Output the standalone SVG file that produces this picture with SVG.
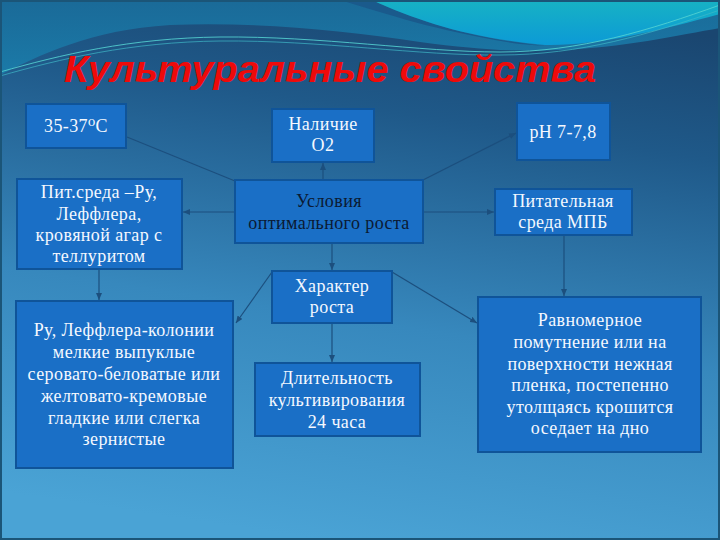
<svg xmlns="http://www.w3.org/2000/svg" width="720" height="540" viewBox="0 0 720 540">
  <defs>
    <linearGradient id="bg" x1="0.65" y1="0" x2="0.45" y2="1">
      <stop offset="0" stop-color="#1a4670"/>
      <stop offset="0.22" stop-color="#1f5989"/>
      <stop offset="0.6" stop-color="#3788bd"/>
      <stop offset="1" stop-color="#4aa3d5"/>
    </linearGradient>
    <linearGradient id="cyan" x1="0" y1="0" x2="0" y2="1">
      <stop offset="0" stop-color="#17b2c4"/>
      <stop offset="1" stop-color="#0c9ad6"/>
    </linearGradient>
    <linearGradient id="teal" x1="0" y1="0" x2="0" y2="1">
      <stop offset="0" stop-color="#1a6a98"/>
      <stop offset="1" stop-color="#1b7aa8"/>
    </linearGradient>
    <marker id="arr" markerUnits="userSpaceOnUse" markerWidth="7" markerHeight="6" refX="7" refY="3" orient="auto">
      <path d="M0,0 L7,3 L0,6 Z" fill="#1c4f7e"/>
    </marker>
    <style>
      .box { fill: #1a6fc6; stroke: #0f5499; stroke-width: 2; }
      .t { font-family: "Liberation Serif", "DejaVu Serif", serif; font-size: 18px; fill: #f4f8ff; text-anchor: middle; letter-spacing: 0.4px; }
      .dark { fill: #0b1a33; }
      .c { stroke: #1c4f7e; stroke-width: 1.2; fill: none; }
      .ca { stroke: #1c4f7e; stroke-width: 1.2; fill: none; marker-end: url(#arr); }
      .title { font-family: "Liberation Sans", Arial, sans-serif; font-weight: bold; font-style: italic; font-size: 37px; fill: #ee0a0a; }
    </style>
  </defs>

  <g id="background">
    <rect x="0" y="0" width="720" height="540" fill="url(#bg)"/>
    <path d="M0,0 H720 V28 C 680,35 620,48 560,50 C 520,52 480,50 420,42 C 340,30 260,22 170,25 C 90,30 40,55 0,75 Z" fill="url(#teal)"/>
    <path d="M340,0 C 390,15 440,32 520,44 L545,46 C 470,38 420,22 372,0 Z" fill="#1a5a8c"/>
    <path d="M372,0 C 420,22 470,38 545,45 C 600,46 660,30 720,14 V0 Z" fill="url(#cyan)"/>
    <path d="M0,72 C 60,55 130,38 220,37 C 320,36 420,52 500,52 C 580,52 650,30 720,5" fill="none" stroke="#55d4d2" stroke-width="1" opacity="0.85"/>
    <path d="M0,76 C 60,59 130,42 220,41 C 320,40 420,56 500,55 C 580,55 650,34 720,10" fill="none" stroke="#3fb8c8" stroke-width="1" opacity="0.7"/>
    <rect x="1" y="1" width="718" height="538" fill="none" stroke="#1b5578" stroke-width="2"/>
  </g>

  <text id="title" class="title" x="64" y="82" textLength="532" lengthAdjust="spacingAndGlyphs">Культуральные свойства</text>

  <g id="connectors">
    <path class="c" d="M235,181 L127,137"/>
    <path class="ca" d="M323,180 L323,163"/>
    <path class="ca" d="M423,180 L516,133"/>
    <path class="ca" d="M235,212 L183,212"/>
    <path class="ca" d="M423,212 L494,212"/>
    <path class="ca" d="M332,243 L332,270"/>
    <path class="ca" d="M99,269 L99,300"/>
    <path class="ca" d="M564,235 L564,296"/>
    <path class="ca" d="M272,272 L236,323"/>
    <path class="ca" d="M392,272 L477,323"/>
    <path class="ca" d="M332,323 L332,362"/>
  </g>

  <g id="temp">
    <rect class="box" x="26" y="104" width="100" height="44"/>
    <text class="t" x="76" y="132">35-37⁰C</text>
  </g>
  <g id="oxygen">
    <rect class="box" x="272" y="109" width="102" height="53"/>
    <text class="t" x="323" y="130">Наличие</text>
    <text class="t" x="323" y="151">O2</text>
  </g>
  <g id="ph">
    <rect class="box" x="517" y="103" width="93" height="57"/>
    <text class="t" x="563" y="138">pH 7-7,8</text>
  </g>
  <g id="medium-left">
    <rect class="box" x="17" y="179" width="165" height="90"/>
    <text class="t" x="99" y="198">Пит.среда –Ру,</text>
    <text class="t" x="99" y="220">Леффлера,</text>
    <text class="t" x="99" y="241">кровяной агар с</text>
    <text class="t" x="99" y="262">теллуритом</text>
  </g>
  <g id="conditions">
    <rect class="box" x="235" y="180" width="188" height="63"/>
    <text class="t dark" x="329" y="207">Условия</text>
    <text class="t dark" x="329" y="229">оптимального роста</text>
  </g>
  <g id="medium-right">
    <rect class="box" x="495" y="189" width="137" height="46"/>
    <text class="t" x="563" y="207">Питательная</text>
    <text class="t" x="563" y="228">среда МПБ</text>
  </g>
  <g id="growth">
    <rect class="box" x="272" y="271" width="120" height="52"/>
    <text class="t" x="332" y="292">Характер</text>
    <text class="t" x="332" y="313">роста</text>
  </g>
  <g id="colonies">
    <rect class="box" x="16" y="301" width="217" height="167"/>
    <text class="t" x="124" y="336">Ру, Леффлера-колонии</text>
    <text class="t" x="124" y="358">мелкие выпуклые</text>
    <text class="t" x="124" y="380">серовато-беловатые или</text>
    <text class="t" x="124" y="402">желтовато-кремовые</text>
    <text class="t" x="124" y="424">гладкие или слегка</text>
    <text class="t" x="124" y="445">зернистые</text>
  </g>
  <g id="duration">
    <rect class="box" x="255" y="363" width="165" height="73"/>
    <text class="t" x="337" y="384">Длительность</text>
    <text class="t" x="337" y="406">культивирования</text>
    <text class="t" x="337" y="428">24 часа</text>
  </g>
  <g id="broth">
    <rect class="box" x="478" y="297" width="223" height="155"/>
    <text class="t" x="590" y="326">Равномерное</text>
    <text class="t" x="590" y="348">помутнение или на</text>
    <text class="t" x="590" y="370">поверхности нежная</text>
    <text class="t" x="590" y="391">пленка, постепенно</text>
    <text class="t" x="590" y="413">утолщаясь крошится</text>
    <text class="t" x="590" y="434">оседает на дно</text>
  </g>
</svg>
